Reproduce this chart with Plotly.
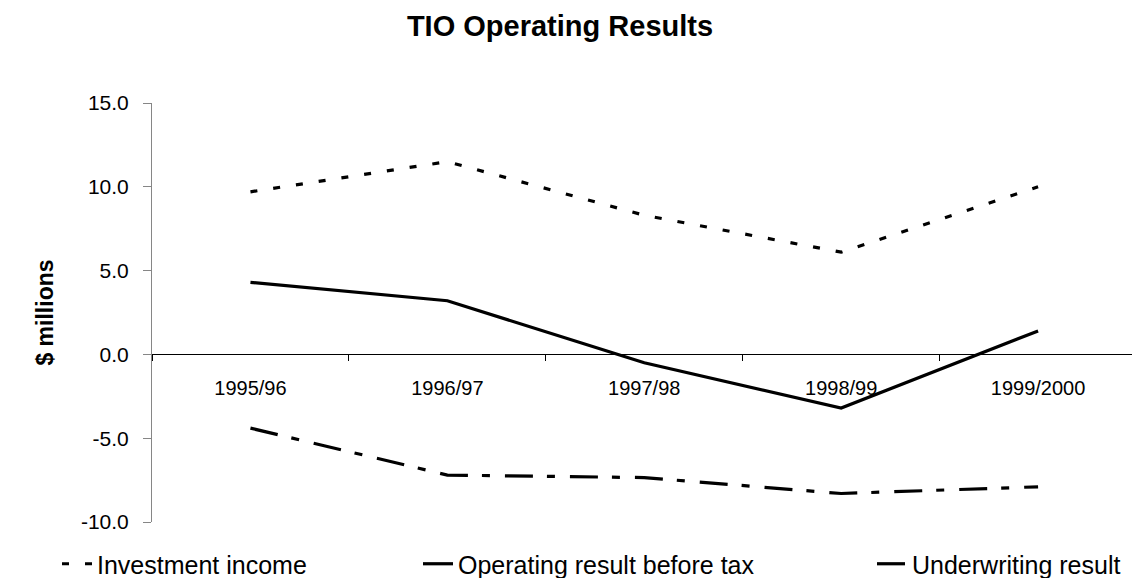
import plotly.graph_objects as go

years = ["1995/96", "1996/97", "1997/98", "1998/99", "1999/2000"]
investment_income = [9.7, 11.5, 8.3, 6.1, 10.0]
operating_result = [4.3, 3.2, -0.5, -3.2, 1.4]
underwriting_result = [-4.4, -7.2, -7.35, -8.3, -7.9]
y_tick_values = [-10, -5, 0, 5, 10, 15]
y_tick_labels = ["-10.0", "-5.0", "0.0", "5.0", "10.0", "15.0"]

FONT = "Arial, Liberation Sans, sans-serif"

fig = go.Figure()
fig.add_trace(go.Scatter(x=years, y=investment_income, mode="lines",
                         name="Investment income", legend="legend", showlegend=True,
                         line=dict(color="black", width=3.2, dash="7px,16px")))
fig.add_trace(go.Scatter(x=years, y=operating_result, mode="lines",
                         name="Operating result before tax", legend="legend2", showlegend=True,
                         line=dict(color="black", width=3.2)))
fig.add_trace(go.Scatter(x=years, y=underwriting_result, mode="lines",
                         name="Underwriting result", legend="legend3", showlegend=True,
                         line=dict(color="black", width=3.2, dash="28px,14px,8px,15px")))

W, H = 1132, 578
L, R, T, B = 152, 0, 103, 56
LEG_Y = 564

leg_common = dict(orientation="h", xanchor="left", yanchor="middle",
                  xref="container", yref="container",
                  font=dict(family=FONT, size=25, color="black"),
                  bgcolor="rgba(0,0,0,0)", borderwidth=0)

fig.update_layout(
    width=W, height=H, showlegend=True,
    margin=dict(l=L, r=R, t=T, b=B, autoexpand=False),
    paper_bgcolor="white", plot_bgcolor="white",
    font=dict(family=FONT, color="black"),
    title=dict(text="<b>TIO Operating Results</b>", font=dict(size=29, family=FONT, color="black"),
               xref="container", x=560 / W, xanchor="center",
               yref="container", y=1 - 26 / H, yanchor="middle"),
    legend=dict(x=(97 - 40) / W, y=1 - LEG_Y / H, **leg_common),
    legend2=dict(x=(458 - 40) / W, y=1 - LEG_Y / H, **leg_common),
    legend3=dict(x=(912 - 40) / W, y=1 - LEG_Y / H, **leg_common),
    xaxis=dict(type="category", range=[-0.5, 4.477], anchor="free", position=0.4,
               showline=True, linecolor="black", linewidth=1,
               ticks="outside", tickson="boundaries", ticklen=6, tickcolor="black",
               tickfont=dict(size=20, family=FONT, color="black"),
               ticklabelstandoff=16, showgrid=False, zeroline=False, automargin=False),
    yaxis=dict(range=[-10, 15], tickmode="array", tickvals=y_tick_values, ticktext=y_tick_labels,
               showline=True, linecolor="#868686", linewidth=1,
               ticks="outside", ticklen=8, tickcolor="#868686",
               tickfont=dict(size=21, family=FONT, color="black"),
               ticklabelstandoff=10, showgrid=False, zeroline=False, automargin=False,
               title=dict(text="<b>$ millions</b>", font=dict(size=23, family=FONT, color="black"),
                          standoff=20)),
)

fig.write_html("out.html", config={"displayModeBar": False},
               post_script="document.body.style.margin='0';document.body.style.overflow='hidden';")
